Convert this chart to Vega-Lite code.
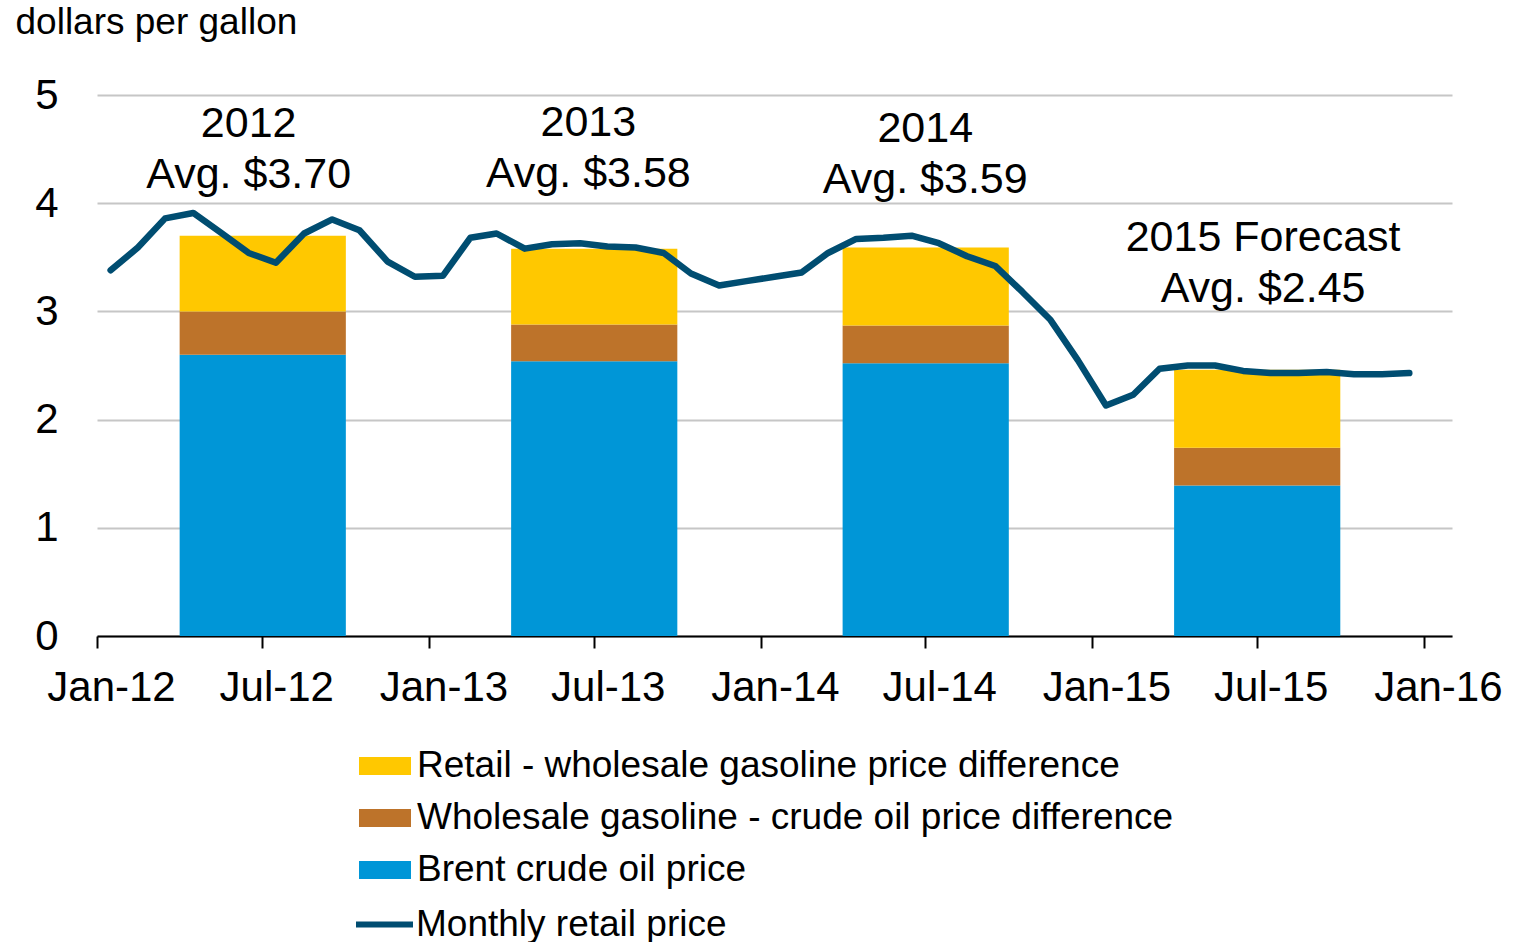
{
  "$schema": "https://vega.github.io/schema/vega-lite/v6.json",
  "width": 1355,
  "height": 541,
  "autosize": {"type": "none"},
  "padding": {"left": 97, "top": 95, "right": 63, "bottom": 306},
  "background": "white",
  "config": {
    "font": "Liberation Sans",
    "view": {"stroke": null},
    "axis": {"labelFont": "Liberation Sans", "titleFont": "Liberation Sans", "labelColor": "black", "titleColor": "black"}
  },
  "datasets": {
    "bars": [
      {"year": "2012", "start": "2012-04-01", "end": "2012-10-01", "component": "Brent crude oil price", "value": 2.60, "ord": 1},
      {"year": "2012", "start": "2012-04-01", "end": "2012-10-01", "component": "Wholesale gasoline - crude oil price difference", "value": 0.40, "ord": 2},
      {"year": "2012", "start": "2012-04-01", "end": "2012-10-01", "component": "Retail - wholesale gasoline price difference", "value": 0.70, "ord": 3},
      {"year": "2013", "start": "2013-04-01", "end": "2013-10-01", "component": "Brent crude oil price", "value": 2.54, "ord": 1},
      {"year": "2013", "start": "2013-04-01", "end": "2013-10-01", "component": "Wholesale gasoline - crude oil price difference", "value": 0.34, "ord": 2},
      {"year": "2013", "start": "2013-04-01", "end": "2013-10-01", "component": "Retail - wholesale gasoline price difference", "value": 0.70, "ord": 3},
      {"year": "2014", "start": "2014-04-01", "end": "2014-10-01", "component": "Brent crude oil price", "value": 2.52, "ord": 1},
      {"year": "2014", "start": "2014-04-01", "end": "2014-10-01", "component": "Wholesale gasoline - crude oil price difference", "value": 0.35, "ord": 2},
      {"year": "2014", "start": "2014-04-01", "end": "2014-10-01", "component": "Retail - wholesale gasoline price difference", "value": 0.72, "ord": 3},
      {"year": "2015", "start": "2015-04-01", "end": "2015-10-01", "component": "Brent crude oil price", "value": 1.39, "ord": 1},
      {"year": "2015", "start": "2015-04-01", "end": "2015-10-01", "component": "Wholesale gasoline - crude oil price difference", "value": 0.35, "ord": 2},
      {"year": "2015", "start": "2015-04-01", "end": "2015-10-01", "component": "Retail - wholesale gasoline price difference", "value": 0.72, "ord": 3}
    ],
    "monthly": [
      {"date": "2012-01-16", "price": 3.38}, {"date": "2012-02-15", "price": 3.59}, {"date": "2012-03-16", "price": 3.86},
      {"date": "2012-04-16", "price": 3.91}, {"date": "2012-05-16", "price": 3.73}, {"date": "2012-06-16", "price": 3.54},
      {"date": "2012-07-16", "price": 3.45}, {"date": "2012-08-16", "price": 3.72}, {"date": "2012-09-16", "price": 3.85},
      {"date": "2012-10-16", "price": 3.75}, {"date": "2012-11-16", "price": 3.46}, {"date": "2012-12-16", "price": 3.32},
      {"date": "2013-01-16", "price": 3.33}, {"date": "2013-02-15", "price": 3.68}, {"date": "2013-03-16", "price": 3.72},
      {"date": "2013-04-16", "price": 3.58}, {"date": "2013-05-16", "price": 3.62}, {"date": "2013-06-16", "price": 3.63},
      {"date": "2013-07-16", "price": 3.60}, {"date": "2013-08-16", "price": 3.59}, {"date": "2013-09-16", "price": 3.54},
      {"date": "2013-10-16", "price": 3.35}, {"date": "2013-11-16", "price": 3.24}, {"date": "2013-12-16", "price": 3.28},
      {"date": "2014-01-16", "price": 3.32}, {"date": "2014-02-15", "price": 3.36}, {"date": "2014-03-16", "price": 3.54},
      {"date": "2014-04-16", "price": 3.67}, {"date": "2014-05-16", "price": 3.68}, {"date": "2014-06-16", "price": 3.70},
      {"date": "2014-07-16", "price": 3.63}, {"date": "2014-08-16", "price": 3.51}, {"date": "2014-09-16", "price": 3.42},
      {"date": "2014-10-16", "price": 3.18}, {"date": "2014-11-16", "price": 2.92}, {"date": "2014-12-16", "price": 2.55},
      {"date": "2015-01-16", "price": 2.13}, {"date": "2015-02-15", "price": 2.23}, {"date": "2015-03-16", "price": 2.47},
      {"date": "2015-04-16", "price": 2.50}, {"date": "2015-05-16", "price": 2.50}, {"date": "2015-06-16", "price": 2.45},
      {"date": "2015-07-16", "price": 2.43}, {"date": "2015-08-16", "price": 2.43}, {"date": "2015-09-16", "price": 2.44},
      {"date": "2015-10-16", "price": 2.42}, {"date": "2015-11-16", "price": 2.42}, {"date": "2015-12-16", "price": 2.43}
    ],
    "labels": [
      {"date": "2012-06-16", "y": 4.73, "text": ["2012", "Avg. $3.70"]},
      {"date": "2013-06-25", "y": 4.74, "text": ["2013", "Avg. $3.58"]},
      {"date": "2014-07-01", "y": 4.69, "text": ["2014", "Avg. $3.59"]},
      {"date": "2015-07-08", "y": 3.68, "text": ["2015 Forecast", "Avg. $2.45"]}
    ]
  },
  "encoding": {
    "x": {
      "type": "temporal",
      "scale": {"domain": ["2012-01-01T00:00:00", "2016-02-01T00:00:00"]},
      "axis": {
        "title": null, "values": ["2012-01-01T00:00:00", "2012-07-01T00:00:00", "2013-01-01T00:00:00", "2013-07-01T00:00:00", "2014-01-01T00:00:00", "2014-07-01T00:00:00", "2015-01-01T00:00:00", "2015-07-01T00:00:00", "2016-01-01T00:00:00"],
        "format": "%b-%y", "labelFontSize": 42, "labelOffset": 14, "labelPadding": 19,
        "tickSize": 12, "tickWidth": 2, "tickColor": "black", "domainColor": "black", "domainWidth": 2,
        "grid": false, "labelOverlap": false, "labelFlush": false
      }
    },
    "y": {
      "type": "quantitative",
      "scale": {"domain": [0, 5], "nice": false, "zero": true},
      "axis": {
        "values": [0, 1, 2, 3, 4, 5], "format": "d", "labelFontSize": 42, "labelPadding": 39, "ticks": false, "domain": false,
        "gridColor": "#c6c6c6", "gridWidth": 2,
        "title": "dollars per gallon", "titleAngle": 0, "titleFontSize": 37, "titleFontWeight": "normal",
        "titleAlign": "left", "titleBaseline": "middle", "titleX": -82, "titleY": -73
      }
    }
  },
  "layer": [
    {
      "data": {"name": "bars"},
      "transform": [
        {"stack": "value", "groupby": ["year"], "sort": [{"field": "ord", "order": "ascending"}], "as": ["v0", "v1"]}
      ],
      "mark": {"type": "rect"},
      "encoding": {
        "x": {"field": "start", "type": "temporal"},
        "x2": {"field": "end"},
        "y": {"field": "v0", "type": "quantitative"},
        "y2": {"field": "v1"},
        "color": {
          "field": "component", "type": "nominal",
          "scale": {
            "domain": ["Retail - wholesale gasoline price difference", "Wholesale gasoline - crude oil price difference", "Brent crude oil price"],
            "range": ["#ffc800", "#bd732a", "#0096d7"]
          },
          "legend": {
            "title": null, "orient": "none", "legendX": 262, "legendY": 645,
            "symbolType": "M-1,-0.35H1V0.35H-1Z", "symbolSize": 2704, "symbolStrokeWidth": 0,
            "labelFontSize": 37, "labelColor": "black", "labelOffset": 6, "rowPadding": 8, "labelLimit": 1000
          }
        }
      }
    },
    {
      "data": {"name": "monthly"},
      "mark": {"type": "line", "strokeWidth": 6.5, "strokeJoin": "round", "strokeCap": "round"},
      "encoding": {
        "x": {"field": "date", "type": "temporal"},
        "y": {"field": "price", "type": "quantitative"},
        "stroke": {
          "datum": "Monthly retail price", "type": "nominal",
          "scale": {"domain": ["Monthly retail price"], "range": ["#004d71"]},
          "legend": {
            "title": null, "orient": "none", "legendX": 256, "legendY": 798,
            "symbolType": "stroke", "symbolSize": 3249, "symbolStrokeWidth": 6,
            "labelFontSize": 37, "labelColor": "black", "labelOffset": 0, "labelLimit": 1000
          }
        }
      }
    },
    {
      "data": {"name": "labels"},
      "mark": {"type": "text", "fontSize": 43, "lineHeight": 51, "align": "center", "baseline": "middle", "color": "black"},
      "encoding": {
        "x": {"field": "date", "type": "temporal"},
        "y": {"field": "y", "type": "quantitative"},
        "text": {"field": "text"}
      }
    }
  ]
}
